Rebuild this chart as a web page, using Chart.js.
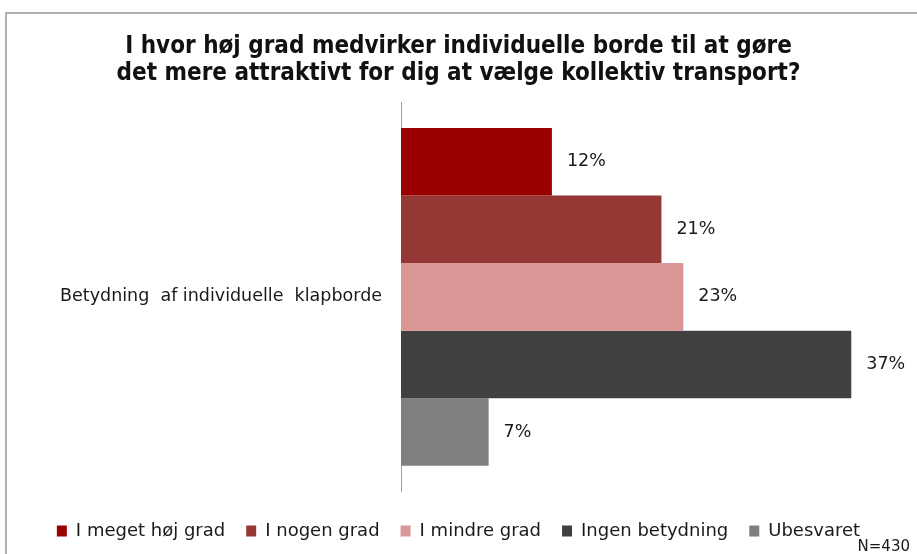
<!DOCTYPE html>
<html>
<head>
<meta charset="utf-8">
<script src="https://cdn.jsdelivr.net/npm/chart.js@4.4.1/dist/chart.umd.min.js"></script>
<style>
  html, body { margin: 0; padding: 0; background: #fff; }
  #wrap { position: relative; width: 917px; height: 554px; }
  #frame { position: absolute; left: 5px; top: 12px; right: -10px; bottom: -10px;
           border-top: 2px solid #b0b0b0; border-left: 2px solid #b0b0b0; }
  canvas { position: absolute; left: 0; top: 0; }
</style>
</head>
<body>
<div id="wrap">
  <div id="frame"></div>
  <canvas id="chartId" width="917" height="554"></canvas>
</div>
<script>
const categories = ['Betydning  af individuelle  klapborde']
const seriesNames = ['I meget høj grad', 'I nogen grad', 'I mindre grad', 'Ingen betydning', 'Ubesvaret']
const seriesValues = [12.4, 21.4, 23.2, 37.0, 7.2]
const seriesColors = ['#990000', '#953735', '#d99694', '#404040', '#7f7f7f']
const titleLines = ['I hvor høj grad medvirker individuelle borde til at gøre',
                    'det mere attraktivt for dig at vælge kollektiv transport?']
const sampleNote = 'N=430'

const labelFont = 'DejaVu Sans, Verdana, sans-serif'

// percent labels next to each bar + N note
const valueLabels = {
    id: 'valueLabels',
    afterDatasetsDraw(chart) {
        const ctx = chart.ctx
        ctx.save()
        ctx.font = '17.5px ' + labelFont
        ctx.fillStyle = '#1a1a1a'
        ctx.textBaseline = 'middle'
        chart.data.datasets.forEach(function(ds, i){
            const bar = chart.getDatasetMeta(i).data[0]
            ctx.fillText(Math.round(ds.data[0]) + '%', bar.x + 15, bar.y)
        })
        ctx.font = '15px ' + labelFont
        ctx.textAlign = 'right'
        ctx.fillText(sampleNote, 910, 547)
        ctx.restore()
    }
}

const datasets = seriesNames.map(function(name, i){
    return {
        label: name,
        data: [seriesValues[i]],
        backgroundColor: seriesColors[i],
        borderWidth: 0,
        barPercentage: 1,
        categoryPercentage: 0.87
    }
})

new Chart(document.getElementById('chartId'), {
    type: 'bar',
    data: { labels: categories, datasets: datasets },
    plugins: [valueLabels],
    options: {
        responsive: false,
        animation: false,
        indexAxis: 'y',
        layout: { padding: { left: 0, right: 0, top: 0, bottom: 4 } },
        scales: {
            x: {
                min: 0, max: 42.4,
                grid: { display: false },
                border: { display: false },
                ticks: { display: false },
                afterFit: function(scale){ scale.height = 10 }
            },
            y: {
                grid: { display: false },
                border: { display: true, color: '#a0a0a0', width: 1 },
                ticks: { color: '#1a1a1a', padding: 11, font: { family: labelFont, size: 17.5 } },
                afterFit: function(scale){ scale.width = 401 }
            }
        },
        plugins: {
            tooltip: { enabled: false },
            title: {
                display: true,
                text: titleLines,
                color: '#111',
                font: { family: 'Liberation Sans Narrow, DejaVu Sans Condensed, Arial Narrow, sans-serif', size: 24, weight: 'bold', lineHeight: 1.12 },
                padding: { top: 33, bottom: 16 }
            },
            legend: {
                position: 'bottom',
                labels: {
                    boxWidth: 10,
                    boxHeight: 11,
                    padding: 21,
                    color: '#1a1a1a',
                    font: { family: labelFont, size: 18 }
                }
            }
        }
    }
})
</script>
</body>
</html>
